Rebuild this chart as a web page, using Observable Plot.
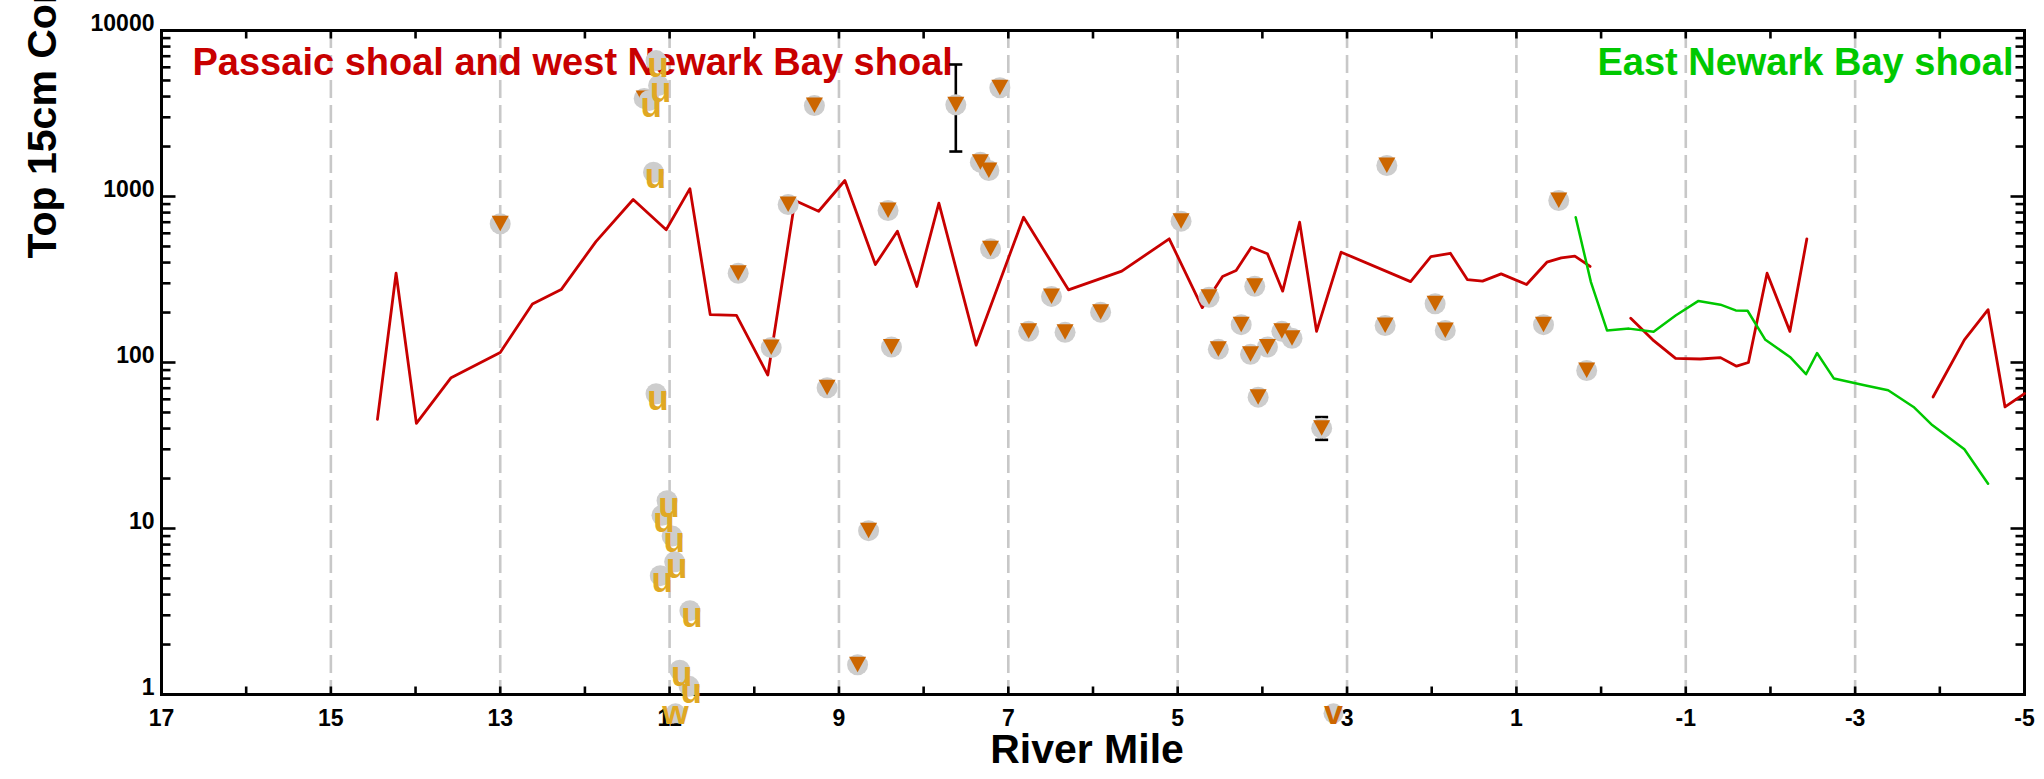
<!DOCTYPE html>
<html><head><meta charset="utf-8">
<script src="https://cdn.jsdelivr.net/npm/d3@7"></script>
<script src="https://cdn.jsdelivr.net/npm/@observablehq/plot@0.6"></script>
<style>html,body{margin:0;padding:0;background:#fff;overflow:hidden}</style>
</head><body><div id="chart"></div>
<script>
// ---- data (river mile, concentration) ----
const passaicMiles = [14.45,14.23,13.99,13.58,13.0,12.62,12.28,11.87,11.43,11.04,10.76,10.52,10.21,9.84,9.52,9.24,8.93,8.57,8.31,8.08,7.82,7.38,6.82,6.29,5.66,5.1,4.71,4.47,4.31,4.13,3.94,3.76,3.56,3.36,3.07,2.25,2.01,1.78,1.58,1.40,1.18,0.88,0.64,0.47,0.31,0.13];
const passaicConc  = [45.4,345,43,81,115,225,275,535,959,630,1115,194,192,84,946,815,1248,389,618,287,912,127,750,274,355,556,214,330,358,495,452,269,700,154,462,307,435,455,316,309,342,295,402,427,437,379];
const westBayMiles = [-0.35,-0.61,-0.88,-1.17,-1.41,-1.60,-1.74,-1.96,-2.23,-2.43];
const westBayConc  = [185,137,106,105,107,95,100,345,154,556];
const westBay2Miles = [-3.92,-4.29,-4.57,-4.77,-5.0];
const westBay2Conc  = [62,137,208,54,65];
const eastBayMiles = [0.30,0.12,-0.07,-0.33,-0.62,-0.88,-1.15,-1.41,-1.59,-1.73,-1.94,-2.23,-2.42,-2.55,-2.75,-3.11,-3.39,-3.69,-3.91,-4.29,-4.57];
const eastBayConc  = [750,305,156,160,153,192,235,223,206,205,137,108,85,114,80,73,68,54,42,30,18.6];

const triMiles = [13.0,11.30,10.19,9.80,9.60,9.29,9.14,8.78,8.65,8.42,8.38,7.62,7.33,7.23,7.21,7.10,6.76,6.49,6.33,5.91,4.96,4.63,4.52,4.25,4.14,4.09,4.05,3.94,3.77,3.65,3.30,2.55,2.53,1.96,1.84,0.68,0.50,0.17];
const triConc  = [685,3900,345,123,895,3530,70.4,1.51,9.7,824,124,3565,1610,1435,484,4518,154,250,152,201,710,247,120,169,112,288,61.8,124,154,140,40.2,167,1537,226,156,169,946,89.5];

const uMiles = [11.16,11.13,11.24,11.19,11.16,11.03,11.09,10.97,10.94,11.11,10.76,10.88,10.77];
const uConc  = [6590,4670,3790,1400,64.8,14.7,12.0,9.0,6.3,5.2,3.2,1.4,1.12];

const errMiles = [7.62,3.30];
const errLow   = [1866,34.2];
const errHigh  = [6240,46.9];

const belowMiles = [10.93,3.16];
const belowConc  = [0.77,0.77];
const belowGlyph = ["w","v"];

const xTickLabels = [17,15,13,11,9,7,5,3,1,-1,-3,-5];
const xTickMiles  = [17,16,15,14,13,12,11,10,9,8,7,6,5,4,3,2,1,0,-1,-2,-3,-4,-5];
const gridMiles   = [15,13,11,9,7,5,3,1,-1,-3];
const yTickLabels = [1,10,100,1000,10000];
const yMinor = [1,10,100,1000].flatMap(d => [2,3,4,5,6,7,8,9].map(k => k*d));

// ---- records ----
const rec = (m, c, extra={}) => m.map((x,i)=>({mile:x, conc:c[i], ...Object.fromEntries(Object.entries(extra).map(([k,v])=>[k, v[i]]))}));
const redLine = [
  ...rec(passaicMiles, passaicConc).map(d=>({...d, seg:"a"})),
  ...rec(westBayMiles, westBayConc).map(d=>({...d, seg:"b"})),
  ...rec(westBay2Miles, westBay2Conc).map(d=>({...d, seg:"c"}))
];
const greenLine = rec(eastBayMiles, eastBayConc);
const tris = rec(triMiles, triConc);
const us = rec(uMiles, uConc);
const errs = rec(errMiles, errLow, {high: errHigh});
const below = rec(belowMiles, belowConc, {glyph: belowGlyph});

// ---- symbols ----
const triDown = {draw(c){c.moveTo(-8.5,-8);c.lineTo(8.5,-8);c.lineTo(0,7.5);c.closePath();}};
const cap = {draw(c){c.moveTo(-6.5,0);c.lineTo(6.5,0);}};
const vTick = len => ({draw(c){c.moveTo(0,0);c.lineTo(0,len);}});
const hTick = len => ({draw(c){c.moveTo(0,0);c.lineTo(len,0);}});

const RED = "#c80000", GREEN = "#00c800", ORANGE = "#cc6600", GOLD = "#e0a823", GREY = "#cdcdcd";
const F = "Liberation Sans, Arial, Helvetica, sans-serif";

const chart = Plot.plot({
  width: 2044, height: 779,
  marginLeft: 161, marginRight: 20, marginTop: 30, marginBottom: 85,
  x: {domain: [17, -5], axis: null},
  y: {type: "log", domain: [1, 10000], axis: null},
  style: {fontFamily: F, background: "white"},
  marks: [
    Plot.ruleX(gridMiles, {x: d=>d, stroke: "#c8c8c8", strokeWidth: 2.6, strokeDasharray: "18,7"}),
    // axis ticks
    Plot.dot(xTickMiles, {x: d=>d, frameAnchor: "bottom", symbol: vTick(-8), fill: "none", stroke: "black", strokeWidth: 2.6}),
    Plot.dot(xTickMiles, {x: d=>d, frameAnchor: "top", symbol: vTick(8), fill: "none", stroke: "black", strokeWidth: 2.6}),
    Plot.dot(yTickLabels, {y: d=>d, frameAnchor: "left", symbol: hTick(14), fill: "none", stroke: "black", strokeWidth: 2.6}),
    Plot.dot(yMinor, {y: d=>d, frameAnchor: "left", symbol: hTick(9), fill: "none", stroke: "black", strokeWidth: 2.6}),
    Plot.dot(yTickLabels, {y: d=>d, frameAnchor: "right", symbol: hTick(-14), fill: "none", stroke: "black", strokeWidth: 2.6}),
    Plot.dot(yMinor, {y: d=>d, frameAnchor: "right", symbol: hTick(-9), fill: "none", stroke: "black", strokeWidth: 2.6}),
    Plot.frame({stroke: "black", strokeWidth: 3}),
    // tick labels
    Plot.text(xTickLabels, {x: d=>d, text: d=>String(d), frameAnchor: "bottom", lineAnchor: "top", dy: 15, fontSize: 23, fontWeight: "bold", fill: "black"}),
    Plot.text(yTickLabels, {y: d=>d, text: d=>String(d), frameAnchor: "left", textAnchor: "end", lineAnchor: "bottom", dx: -7, fontSize: 23, fontWeight: "bold", fill: "black"}),
    // axis titles
    Plot.text(["River Mile"], {frameAnchor: "bottom", lineAnchor: "bottom", dy: 68, dx: -6, fontSize: 41, fontWeight: "bold", fill: "black"}),
    Plot.text(["Top 15cm Concentration"], {frameAnchor: "top-left", textAnchor: "start", lineAnchor: "bottom", rotate: -90, dx: -106, dy: 228, fontSize: 41, fontWeight: "bold", fill: "black"}),
    // region labels
    Plot.text(["Passaic shoal and west Newark Bay shoal"], {frameAnchor: "top-left", textAnchor: "start", lineAnchor: "bottom", dx: 31, dy: 44, fontSize: 38, fontWeight: "bold", fill: RED}),
    Plot.text(["East Newark Bay shoal"], {frameAnchor: "top-right", textAnchor: "end", lineAnchor: "bottom", dx: -11, dy: 44, fontSize: 38, fontWeight: "bold", fill: GREEN}),
    // lines
    Plot.line(redLine, {x: "mile", y: "conc", z: "seg", stroke: RED, strokeWidth: 2.8}),
    Plot.line(greenLine, {x: "mile", y: "conc", stroke: GREEN, strokeWidth: 2.5}),
    // error bars
    Plot.ruleX(errs, {x: "mile", y1: "conc", y2: "high", stroke: "black", strokeWidth: 2.6}),
    Plot.dot(errs, {x: "mile", y: "conc", symbol: cap, fill: "none", stroke: "black", strokeWidth: 2.6}),
    Plot.dot(errs, {x: "mile", y: "high", symbol: cap, fill: "none", stroke: "black", strokeWidth: 2.6}),
    // triangles
    Plot.dot(tris, {x: "mile", y: "conc", r: 10.5, fill: GREY, stroke: "none"}),
    Plot.dot(tris, {x: "mile", y: "conc", symbol: triDown, fill: ORANGE, stroke: "none"}),
    // u markers
    Plot.dot(us, {x: "mile", y: "conc", r: 10.5, fill: GREY, stroke: "none"}),
    Plot.text(us, {x: "mile", y: "conc", text: () => "u", dx: 2, dy: 5, fontSize: 35, fontWeight: "bold", fill: GOLD}),
    // below-axis markers
    Plot.dot(below, {x: "mile", y: "conc", r: 10, fill: GREY, stroke: "none"}),
    Plot.text(below, {x: "mile", y: "conc", text: "glyph", fontSize: 34, fontWeight: "bold", fill: d => d.glyph === "w" ? GOLD : ORANGE})
  ]
});
document.getElementById("chart").appendChild(chart);
</script>
</body></html>
